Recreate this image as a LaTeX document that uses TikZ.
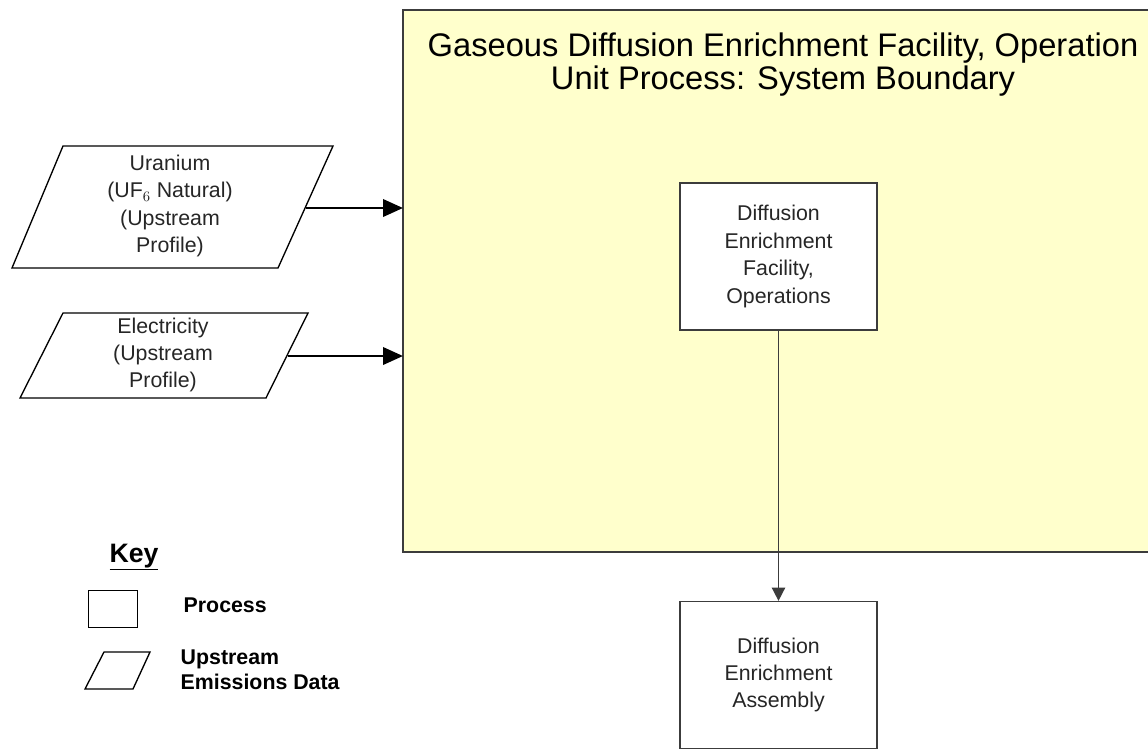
\documentclass[tikz,border=0pt]{standalone}
\usepackage{fontspec}
\setmainfont{Liberation Sans}
\usetikzlibrary{arrows.meta,calc}
\definecolor{boundfill}{HTML}{FFFFCC}
\definecolor{edgegray}{HTML}{3C3C3C}
\tikzset{
  boundary/.style={draw=edgegray,line width=1.2pt,fill=boundfill},
  procbox/.style={draw=edgegray,line width=1.2pt,fill=white},
  updata/.style={draw=black,line width=1pt,fill=white},
  bodytext/.style={align=center,font=\fontsize{16}{20.6}\selectfont,text=black!85},
  keytext/.style={align=left,anchor=west,font=\fontsize{16}{19}\selectfont\bfseries},
  thickarrow/.style={-{Triangle[length=15pt,width=13pt]},line width=2pt,black},
  thinarrow/.style={-{Triangle[length=10pt,width=10pt]},line width=1.3pt,edgegray},
}
\begin{document}
\begin{tikzpicture}[x=0.75pt,y=-0.75pt]
\useasboundingbox (0,0) rectangle (1148,751);
% system boundary
\path[boundary] (403,10) rectangle (1160,552);
\node[align=center,font=\fontsize{24.5}{24.75}\selectfont] (title) at (783,65)
  {Gaseous Diffusion Enrichment Facility, Operation\\Unit Process: System Boundary};
% process boxes
\node[procbox,minimum width=148pt,minimum height=110pt,bodytext] (ops) at (778.5,256.5)
  {Diffusion\\Enrichment\\Facility,\\Operations};
\node[procbox,minimum width=148pt,minimum height=110pt,bodytext] (asm) at (778.5,675)
  {Diffusion\\Enrichment\\Assembly};
\draw[thinarrow] (ops.south) -- (asm.north);
% upstream data parallelograms
\coordinate (u1) at (63,146);
\coordinate (u2) at (333,146);
\coordinate (u3) at (278,268);
\coordinate (u4) at (12,268);
\draw[updata] (u1) -- (u2) -- (u3) -- (u4) -- cycle;
\node[bodytext] (uran) at (170,206)
  {Uranium\\(UF$_6$ Natural)\\(Upstream\\Profile)};
\coordinate (e1) at (63,313);
\coordinate (e2) at (308,313);
\coordinate (e3) at (266,398);
\coordinate (e4) at (20,398);
\draw[updata] (e1) -- (e2) -- (e3) -- (e4) -- cycle;
\node[bodytext] (elec) at (163,355)
  {Electricity\\(Upstream\\Profile)};
\coordinate (uout) at (306,208);
\coordinate (eout) at (288,356);
\coordinate (uin) at (403,208);
\coordinate (ein) at (403,356);
\draw[thickarrow] (uout) -- (uin);
\draw[thickarrow] (eout) -- (ein);
% key
\node[font=\fontsize{20}{22}\selectfont\bfseries] (key) at (134,557) {\underline{Key}};
\node[draw=black,line width=1pt,minimum width=37pt,minimum height=28pt] (keyproc) at (113,609) {};
\node[keytext] (keyproclbl) at (179,605) {Process};
\coordinate (k1) at (104,652);
\coordinate (k2) at (150,652);
\coordinate (k3) at (133,689);
\coordinate (k4) at (85,689);
\draw[black,line width=1pt] (k1) -- (k2) -- (k3) -- (k4) -- cycle;
\node[keytext] (keyuplbl) at (176,670) {Upstream\\Emissions Data};
\end{tikzpicture}
\end{document}
